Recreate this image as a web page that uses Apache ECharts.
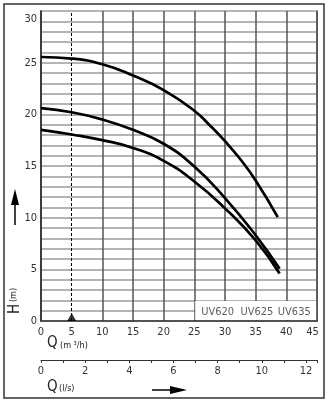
<!DOCTYPE html>
<html><head><meta charset="utf-8">
<script src="https://cdn.jsdelivr.net/npm/echarts@6/dist/echarts.min.js"></script>
<style>html,body{margin:0;padding:0;background:#fff}#c{width:331px;height:403px}</style>
</head><body><div id="c"></div>
<script>
const FONT = '"DejaVu Sans Condensed","DejaVu Sans",sans-serif';
// Pump curves: flow Q (m3/h) vs head H (m)
const qUV635 = [0, 5, 10, 15, 20, 25, 27.5, 30, 32.5, 35, 38.6];
const hUV635 = [25.55, 25.4, 24.85, 23.75, 22.35, 20.35, 18.95, 17.4, 15.65, 13.6, 10.05];
const qUV625 = [0, 5, 10, 15, 20, 25, 30, 35, 38.9];
const hUV625 = [20.6, 20.2, 19.5, 18.5, 17.15, 14.95, 11.9, 8.3, 5.05];
const qUV620 = [0, 5, 10, 15, 20, 25, 30, 35, 38.9];
const hUV620 = [18.5, 18.05, 17.5, 16.75, 15.5, 13.5, 10.9, 7.8, 4.6];
const curveNames = ['UV620', 'UV625', 'UV635'];
const nameQ = [28.8, 35.2, 41.3];
const nameH = 0.9;
const qTicks = [0, 5, 10, 15, 20, 25, 30, 35, 40, 45];
const hTicks = [0, 5, 10, 15, 20, 25, 30];
const lsTicks = [0, 2, 4, 6, 8, 10, 12];
const markerQ = 5;

const zip = (a, b) => a.map((v, i) => [v, b[i]]);
const lineSeries = (name, q, h) => ({
  name, type: 'line', data: zip(q, h), smooth: 0.5, showSymbol: false, silent: true,
  lineStyle: { color: '#000', width: 2.7 }, z: 3
});
const lab = { fontFamily: FONT, fontSize: 11, color: '#333' };

const chart = echarts.init(document.getElementById('c'), null, { renderer: 'canvas' });
chart.setOption({
  animation: false,
  backgroundColor: '#fff',
  textStyle: { fontFamily: FONT },
  grid: { left: 41, right: 14, top: 11, bottom: 82, show: true, borderColor: '#444', borderWidth: 1.5, backgroundColor: '#fff' },
  xAxis: [{
    type: 'value', min: qTicks[0], max: qTicks[qTicks.length - 1], interval: 5,
    axisLine: { show: true, onZero: false, lineStyle: { color: '#333', width: 1.5 } },
    axisTick: { show: false },
    splitLine: { show: true, lineStyle: { color: qTicks.map(v => v === markerQ ? 'rgba(0,0,0,0)' : '#555'), width: 1.5 } },
    axisLabel: Object.assign({}, lab, {
      margin: 6,
      formatter: v => v === 45 ? '{r|45}' : String(v),
      rich: { r: Object.assign({}, lab, { padding: [0, 9, 0, 0] }) }
    })
  }, {
    type: 'value', min: 0, max: 12.5, interval: 1, position: 'bottom', offset: 39,
    axisLine: { show: true, onZero: false, lineStyle: { color: '#333', width: 1 } },
    axisTick: { show: true, length: 3, lineStyle: { color: '#333', width: 1 } },
    splitLine: { show: false },
    axisLabel: Object.assign({}, lab, {
      margin: 6,
      formatter: v => lsTicks.indexOf(v) >= 0 ? String(v) : ''
    })
  }],
  yAxis: {
    type: 'value', min: hTicks[0], max: hTicks[hTicks.length - 1], interval: 1,
    axisLine: { show: true, onZero: false, lineStyle: { color: '#333', width: 1.5 } },
    axisTick: { show: false },
    splitLine: { show: true, lineStyle: { color: '#b4b4b4', width: 2 } },
    axisLabel: Object.assign({}, lab, {
      margin: 4,
      formatter: v => hTicks.indexOf(v) < 0 ? '' : (v === 30 ? '{t|30}' : String(v)),
      rich: { t: Object.assign({}, lab, { padding: [16, 0, 0, 0] }) }
    })
  },
  series: [
    lineSeries('UV635', qUV635, hUV635),
    lineSeries('UV625', qUV625, hUV625),
    lineSeries('UV620', qUV620, hUV620),
    {
      type: 'scatter', silent: true, z: 4,
      data: [[markerQ, 0]], symbol: 'triangle', symbolSize: [9, 8], symbolOffset: [0, -4],
      itemStyle: { color: '#000' },
      markLine: {
        silent: true, symbol: 'none', label: { show: false },
        lineStyle: { color: '#000', width: 1, type: [3, 2] },
        data: [{ xAxis: markerQ }]
      }
    },
    {
      type: 'scatter', silent: true, z: 4, symbolSize: 0,
      data: nameQ.map((q, i) => [q, nameH, curveNames[i]]),
      label: Object.assign({}, lab, { show: true, position: 'inside', formatter: p => p.data[2] }),
      markArea: {
        silent: true, label: { show: false },
        itemStyle: { color: '#fff' },
        data: [[{ coord: [25.15, 0.1] }, { coord: [44.85, 1.93] }]]
      }
    }
  ],
  graphic: [
    { type: 'rect', shape: { x: 4, y: 4, width: 320, height: 394 }, style: { fill: 'none', stroke: '#333', lineWidth: 1.5 }, silent: true },
    { type: 'text', x: 47, y: 343, style: { text: 'Q', font: '15px ' + FONT, fill: '#222', align: 'left', verticalAlign: 'middle', textAlign: 'left', textVerticalAlign: 'middle' } },
    { type: 'text', x: 60, y: 346, style: { text: '(m ³/h)', font: '9px ' + FONT, fill: '#222', align: 'left', verticalAlign: 'middle', textAlign: 'left', textVerticalAlign: 'middle' } },
    { type: 'text', x: 47, y: 387, style: { text: 'Q', font: '15px ' + FONT, fill: '#222', align: 'left', verticalAlign: 'middle', textAlign: 'left', textVerticalAlign: 'middle' } },
    { type: 'text', x: 59, y: 389, style: { text: '(l/s)', font: '9px ' + FONT, fill: '#222', align: 'left', verticalAlign: 'middle', textAlign: 'left', textVerticalAlign: 'middle' } },
    { type: 'text', x: 15, y: 309, rotation: Math.PI / 2, style: { text: 'H', font: '15px ' + FONT, fill: '#222', align: 'center', verticalAlign: 'middle', textAlign: 'center', textVerticalAlign: 'middle' } },
    { type: 'text', x: 14, y: 295, rotation: Math.PI / 2, style: { text: '(m)', font: '9px ' + FONT, fill: '#222', align: 'center', verticalAlign: 'middle', textAlign: 'center', textVerticalAlign: 'middle' } },
    { type: 'line', shape: { x1: 15, y1: 225, x2: 15, y2: 200 }, style: { stroke: '#000', lineWidth: 1.5 } },
    { type: 'polygon', shape: { points: [[15, 189], [11, 205], [19, 205]] }, style: { fill: '#000' } },
    { type: 'line', shape: { x1: 152, y1: 390, x2: 175, y2: 390 }, style: { stroke: '#000', lineWidth: 1.5 } },
    { type: 'polygon', shape: { points: [[187, 390], [170, 386], [170, 394]] }, style: { fill: '#000' } }
  ]
});
</script></body></html>
